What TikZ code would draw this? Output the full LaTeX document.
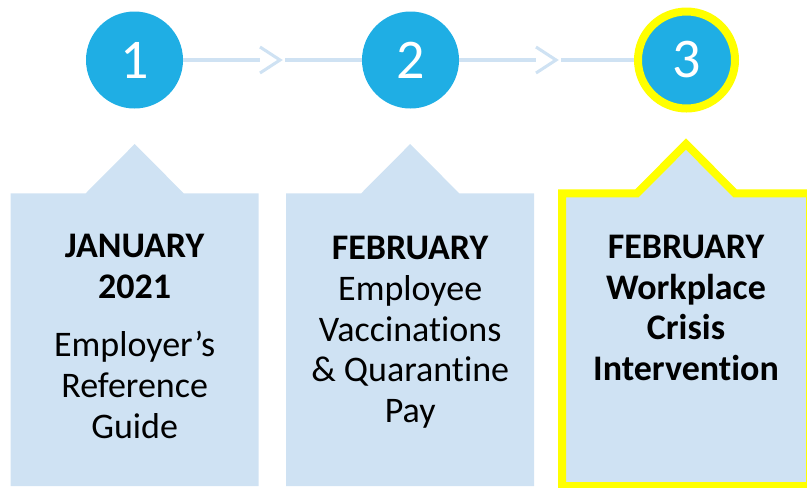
\documentclass[tikz,border=0pt]{standalone}
\usepackage{fontspec}
\setmainfont{Carlito}[Ligatures={NoCommon,NoContextual}, RawFeature={-liga;-clig;-calt}]
\definecolor{stepblue}{HTML}{1FAEE4}
\definecolor{paleblue}{HTML}{CFE2F3}
\definecolor{hiyellow}{HTML}{FFFF00}
\begin{document}
\begin{tikzpicture}[x=0.75pt,y=-0.75pt,
  stepdot/.style={circle, fill=stepblue, minimum size=72.75pt, inner sep=0pt,
    text=white, font=\fontsize{42}{42}\selectfont},
  current/.style={draw=hiyellow, line width=6pt},
  conn/.style={draw=paleblue, line width=2.3pt},
  card/.style={fill=paleblue},
  cardtext/.style={align=center, font=\fontsize{27}{30.6}\selectfont,
    anchor=base, inner sep=0pt},
]
\clip (0,0) rectangle (807,487);

% step markers
\node[stepdot] (c1) at (134.5,60) {1};
\node[stepdot] (c2) at (410.5,60) {2};
\node[stepdot, current] (c3) at (686.5,60) {3};

% connectors with open chevrons
\coordinate (k1) at (260,60);
\coordinate (k1tip) at (280,60);
\coordinate (r1) at (285,60);
\coordinate (k2) at (536,60);
\coordinate (k2tip) at (556,60);
\coordinate (r2) at (561,60);
\draw[conn] (c1) -- (k1);
\draw[conn] (k1) ++(0,-13) -- (k1tip) -- ++(-20,13);
\draw[conn] (r1) -- (c2);
\draw[conn] (c2) -- (k2);
\draw[conn] (k2) ++(0,-13) -- (k2tip) -- ++(-20,13);
\draw[conn] (r2) -- (c3);

% cards with a pointed top
\path[card] (10.7,486) -- (10.7,193.3) -- (85.7,193.3) -- (134.7,144)
  -- (183.7,193.3) -- (258.7,193.3) -- (258.7,486) -- cycle;
\path[card] (286.2,486) -- (286.2,193.3) -- (361.2,193.3) -- (410.2,144)
  -- (459.2,193.3) -- (534.2,193.3) -- (534.2,486) -- cycle;
\path[card, draw=hiyellow, line width=6pt] (562,486) -- (562,193.3) -- (637,193.3)
  -- (686,144) -- (735,193.3) -- (810,193.3) -- (810,486) -- cycle;

% card texts (anchored on the baseline of the last line)
\node[cardtext] (t1) at (134.7,438.3)
  {\textbf{JANUARY}\\\textbf{2021}\\[13pt]Employer’s\\Reference\\Guide};
\node[cardtext] (t2) at (410.2,422.7)
  {\textbf{FEBRUARY}\\Employee\\Vaccinations\\\& Quarantine\\Pay};
\node[cardtext, font=\fontsize{27}{30.6}\selectfont\bfseries] (t3) at (686,380.7)
  {FEBRUARY\\Workplace\\Crisis\\Intervention};
\end{tikzpicture}
\end{document}
